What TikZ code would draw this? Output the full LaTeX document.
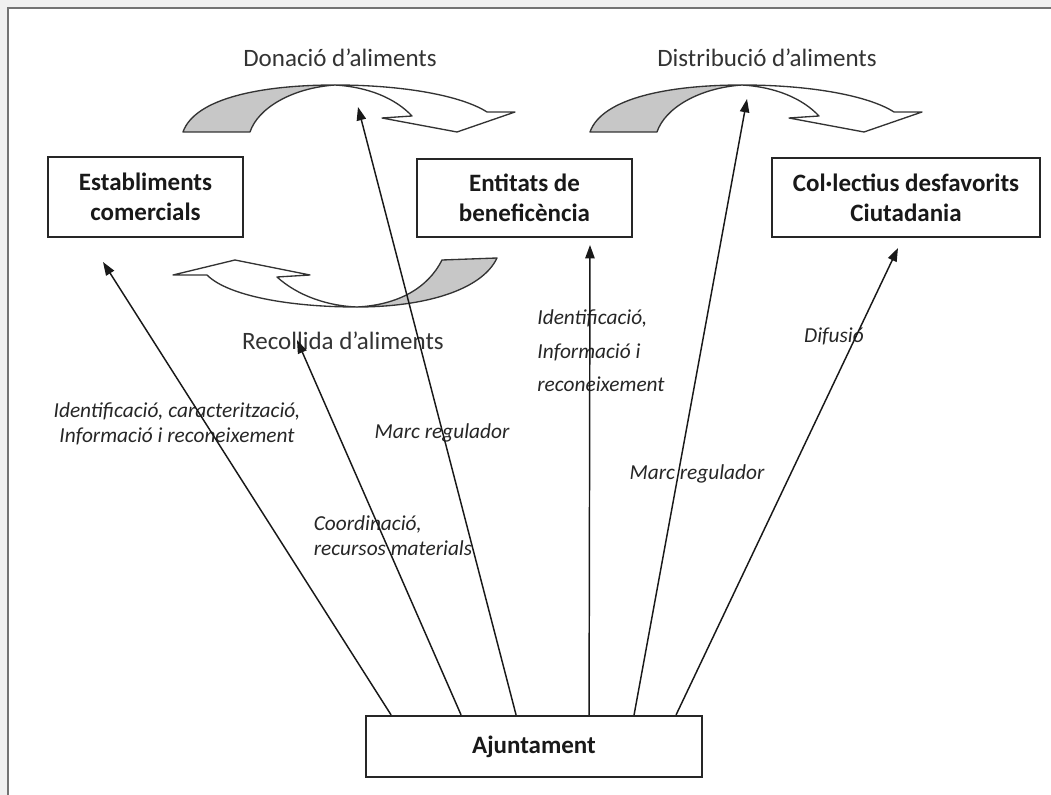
\documentclass[tikz,border=0pt]{standalone}
\usepackage{fontspec}
\setmainfont{Carlito}
\usetikzlibrary{arrows.meta,calc}
\begin{document}
\begin{tikzpicture}[x=0.75pt,y=-0.75pt,
  box/.style={draw=black!85,line width=1.4pt,fill=white,font=\fontsize{18.75}{22.5}\selectfont\bfseries,text=black!90,align=center,inner sep=0pt},
  lbl/.style={font=\fontsize{16}{19}\selectfont\itshape,text=black!85,align=center,inner sep=0pt},
  ttl/.style={font=\fontsize{18.75}{22.5}\selectfont,text=black!80,inner sep=0pt},
  conn/.style={line width=1.1pt,draw=black!90,-{Triangle[length=10pt,width=7pt]}},
  band/.style={draw=black!80,line width=1pt,line join=round},
  darrow/.pic={
    \draw[band,fill=black!22] (183,132) .. controls (195,98) and (262,85) .. (335,85) .. controls (292,88) and (258,108) .. (250,132) -- cycle;
    \draw[band,fill=white] (335,85) .. controls (405,85) and (462,96) .. (487,112) -- (515,112) -- (457,132) -- (382,118) -- (412,116) .. controls (395,98) and (368,87) .. (335,85) -- cycle;
  }]
\useasboundingbox (0,0) rectangle (1051,795);
\fill[black!6] (0,0) rectangle (1051,795);
\fill[white] (8,8) rectangle (1051,795);
\draw[black!55,line width=1.2pt] (8,795) -- (8,8) -- (1051,8);

% curved block arrows
\pic at (0,0) {darrow};
\pic at (407,0) {darrow};
\draw[band,fill=black!22] (357,307) .. controls (425,307) and (482,290) .. (497,258) -- (442,260) .. controls (428,288) and (398,305) .. (357,307) -- cycle;
\draw[band,fill=white] (357,307) .. controls (290,307) and (228,296) .. (207,275) -- (173,275) -- (235,260) -- (310,275) -- (277,277) .. controls (298,296) and (328,306) .. (357,307) -- cycle;

\node[ttl] (don) at (340,58) {Donació d’aliments};
\node[ttl] (dis) at (767,58) {Distribució d’aliments};
\node[ttl] (rec) at (343,341) {Recollida d’aliments};

% boxes
\node[box,minimum width=146pt,minimum height=60pt] (est) at (145.5,197) {Establiments\\comercials};
\node[box,minimum width=161pt,minimum height=58.5pt] (ent) at (524.5,198) {Entitats de\\beneficència};
\node[box,minimum width=201pt,minimum height=59pt] (col) at (906,197.5) {Col·lectius desfavorits\\Ciutadania};
\node[box,minimum width=252pt,minimum height=46pt] (aj) at (534,746.5) {Ajuntament};

% labels
\node[lbl] (l1) at (177,424) {Identificació, caracterització,\\Informació i reconeixement};
\node[lbl] (l2) at (442,433) {Marc regulador};
\node[lbl,align=left] (l3) at (393,536) {Coordinació,\\recursos materials};
\node[lbl,align=left,font=\fontsize{16}{25}\selectfont\itshape] (l4) at (601,351) {Identificació,\\Informació i\\reconeixement};
\node[lbl] (l5) at (697,474) {Marc regulador};
\node[lbl] (l6) at (834,336) {Difusió};

% connector ends
\coordinate (t1) at (103,262);
\coordinate (t2) at (297,340);
\coordinate (t3) at (358,107);
\coordinate (t4) at (590,245);
\coordinate (t5) at (747,99);
\coordinate (t6) at (898,248);

\draw[conn] ($(aj.north west)+(26,0)$) -- (t1);
\draw[conn] ($(aj.north west)+(96,0)$) -- (t2);
\draw[conn] ($(aj.north west)+(151,0)$) -- (t3);
\draw[conn] ($(aj.north west)+(224,0)$) -- (t4);
\draw[conn] ($(aj.north west)+(269,0)$) -- (t5);
\draw[conn] ($(aj.north west)+(311,0)$) -- (t6);
\end{tikzpicture}
\end{document}
